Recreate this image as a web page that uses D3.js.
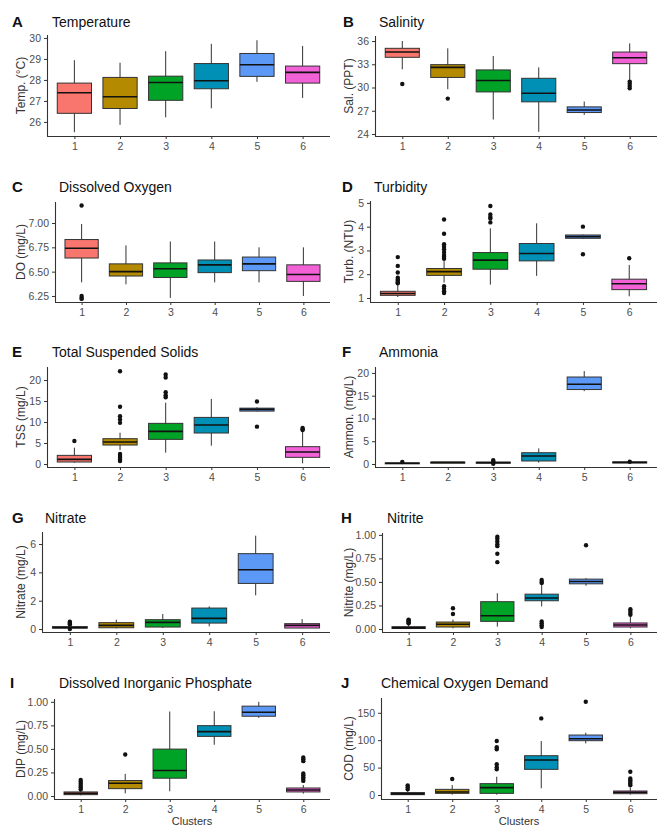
<!DOCTYPE html>
<html>
<head>
<meta charset="utf-8">
<script src="https://cdn.jsdelivr.net/npm/d3@7"></script>
<style>
  body { margin: 0; background: #fff; }
  svg { font-family: Arial, "Liberation Sans", sans-serif; }
</style>
</head>
<body>
<div id="chart"></div>
<script>
// cluster labels on every x axis
var clusters = ["1", "2", "3", "4", "5", "6"];
var clusterColors = ["#F8766D", "#B38A00", "#00A326", "#0090B5", "#5C99F7", "#F262D6"];

// box stats per cluster: [lower whisker, q1, median, q3, upper whisker]
var tempBox = [[25.51, 26.41, 27.39, 27.85, 28.94], [25.86, 26.64, 27.2, 28.12, 28.82], [26.22, 27.03, 27.88, 28.18, 29.37],
  [26.65, 27.58, 27.96, 28.78, 29.72], [27.91, 28.17, 28.72, 29.26, 29.89], [27.14, 27.85, 28.36, 28.66, 29.62]];
var tempOut = [[], [], [], [], [], []];

var salBox = [[32.35, 33.9, 34.58, 35.06, 36.0], [29.78, 31.3, 32.6, 32.95, 35.06], [25.87, 29.43, 30.9, 32.27, 34.07],
  [24.28, 28.15, 29.26, 31.19, 32.6], [26.47, 26.77, 27.1, 27.5, 28.19], [30.98, 33.08, 33.85, 34.58, 35.7]];
var salOut = [[30.46], [28.57], [], [], [], [30.76, 30.5, 30.2, 29.9]];

var doBox = [[6.39, 6.64, 6.74, 6.83, 6.99], [6.37, 6.455, 6.5, 6.58, 6.77], [6.23, 6.44, 6.53, 6.59, 6.81],
  [6.39, 6.49, 6.57, 6.62, 6.81], [6.39, 6.51, 6.58, 6.65, 6.75], [6.25, 6.4, 6.47, 6.57, 6.75]];
var doOut = [[7.18, 6.25, 6.23, 6.22], [], [], [], [], []];

var turbBox = [[1.04, 1.11, 1.19, 1.28, 1.55], [1.65, 1.95, 2.11, 2.24, 2.55], [1.56, 2.21, 2.59, 2.91, 3.93],
  [1.93, 2.56, 2.87, 3.29, 4.14], [3.48, 3.51, 3.58, 3.65, 3.67], [1.07, 1.35, 1.6, 1.79, 2.39]];
var turbOut = [[2.72, 2.35, 2.07, 1.85, 1.78, 1.72, 1.66, 1.62],
  [4.3, 3.7, 3.26, 3.16, 3.05, 2.93, 2.81, 2.73, 2.65, 1.49, 1.39, 1.28, 1.21],
  [4.87, 4.51, 4.41, 4.34, 4.18], [], [4.0, 2.84], [2.67]];

var tssBox = [[0.3, 0.48, 1.11, 2.06, 3.9], [3.33, 4.52, 5.24, 6.03, 7.46], [2.7, 5.87, 7.78, 9.68, 14.6],
  [4.37, 7.38, 9.29, 11.1, 15.5], [12.5, 12.6, 13.0, 13.3, 13.5], [0.16, 1.59, 2.86, 4.13, 8.0]];
var tssOut = [[5.48], [22.1, 13.65, 11.4, 10.6, 9.8, 2.38, 1.9, 1.5, 1.1, 0.7],
  [21.3, 20.6, 17.1, 16.4, 15.9], [], [14.9, 8.9], [8.6, 8.3, 8.1]];

var ammBox = [[0.0, 0.05, 0.15, 0.25, 0.4], [0.25, 0.3, 0.35, 0.4, 0.45], [0.1, 0.2, 0.3, 0.4, 0.5],
  [0.3, 0.66, 1.75, 2.48, 3.43], [16.0, 16.35, 17.5, 19.1, 20.4], [0.2, 0.25, 0.35, 0.45, 0.45]];
var ammOut = [[0.45], [], [0.85, 0.6, 0.05], [], [], [0.5]];

var nitrateBox = [[0.02, 0.07, 0.1, 0.17, 0.25], [0.05, 0.09, 0.26, 0.45, 0.66], [0.07, 0.14, 0.47, 0.66, 1.06],
  [0.19, 0.42, 0.75, 1.48, 1.6], [2.38, 3.22, 4.19, 5.32, 6.59], [0.05, 0.07, 0.26, 0.38, 0.7]];
var nitrateOut = [[0.52, 0.45, 0.38, 0.32, 0.0], [], [], [], [], []];

var nitriteBox = [[0.0, 0.005, 0.012, 0.025, 0.05], [0.007, 0.021, 0.05, 0.074, 0.1], [0.025, 0.081, 0.14, 0.29, 0.38],
  [0.24, 0.3, 0.33, 0.37, 0.48], [0.46, 0.48, 0.505, 0.53, 0.54], [0.007, 0.021, 0.042, 0.064, 0.13]];
var nitriteOut = [[0.1, 0.09, 0.08, 0.07, 0.06], [0.22, 0.16], [0.98, 0.96, 0.93, 0.9, 0.88, 0.8, 0.71],
  [0.52, 0.5, 0.49, 0.08, 0.06, 0.04, 0.02], [0.89], [0.21, 0.19, 0.17, 0.15]];

var dipBox = [[0.007, 0.014, 0.028, 0.043, 0.057], [0.028, 0.078, 0.135, 0.164, 0.235], [0.05, 0.189, 0.27, 0.498, 0.897],
  [0.544, 0.633, 0.683, 0.747, 0.9], [0.83, 0.847, 0.89, 0.954, 1.0], [0.025, 0.043, 0.064, 0.085, 0.117]];
var dipOut = [[0.17, 0.15, 0.13, 0.11, 0.09, 0.07], [0.44], [], [], [],
  [0.41, 0.39, 0.37, 0.24, 0.22, 0.2, 0.18, 0.16]];

var codBox = [[0, 0.6, 2, 4.5, 7], [0.6, 3, 5.5, 10.3, 18.2], [0.6, 3.0, 13.4, 20.7, 33.4],
  [12.2, 46.8, 63.8, 71.7, 98.5], [94.2, 99.1, 102.7, 109.4, 113.7], [0.6, 2.4, 4.9, 7.3, 14]];
var codOut = [[17.6, 14, 10.3], [29.2], [98.5, 87, 83.3, 56, 50.5, 46.8], [139.8], [170.2],
  [42.5, 30, 27, 24, 21, 18]];

// tick values per panel
var tempTicks = [26, 27, 28, 29, 30];
var salTicks = [24, 27, 30, 33, 36];
var doTicks = [6.25, 6.5, 6.75, 7.0];
var turbTicks = [1, 2, 3, 4, 5];
var tssTicks = [0, 5, 10, 15, 20];
var ammTicks = [0, 5, 10, 15, 20];
var nitrateTicks = [0, 2, 4, 6];
var nitriteTicks = [0, 0.25, 0.5, 0.75, 1.0];
var dipTicks = [0, 0.25, 0.5, 0.75, 1.0];
var codTicks = [0, 50, 100, 150];

var svg = d3.select("#chart").append("svg")
  .attr("width", 658)
  .attr("height", 826);

// panel layout (pixel frame, y extent incl. ggplot expansion)
var panels = [
  {tag: "A", title: "Temperature", ylab: "Temp. (\u00B0C)", box: tempBox, out: tempOut, ticks: tempTicks, fmt: "d",
   left: 47, right: 330, top: 35, bottom: 136, ymin: 25.33, ymax: 30.14, tagX: 12, titleX: 52, titleY: 27, labX: 21},
  {tag: "B", title: "Salinity", ylab: "Sal. (PPT)", box: salBox, out: salOut, ticks: salTicks, fmt: "d",
   left: 375, right: 657, top: 36, bottom: 136, ymin: 23.74, ymax: 36.65, tagX: 343, titleX: 379, titleY: 27, labX: 349},
  {tag: "C", title: "Dissolved Oxygen", ylab: "DO (mg/L)", box: doBox, out: doOut, ticks: doTicks, fmt: ".2f",
   left: 55, right: 330, top: 202, bottom: 302, ymin: 6.188, ymax: 7.216, tagX: 12, titleX: 59, titleY: 192, labX: 21},
  {tag: "D", title: "Turbidity", ylab: "Turb. (NTU)", box: turbBox, out: turbOut, ticks: turbTicks, fmt: "d",
   left: 370, right: 657, top: 201, bottom: 302, ymin: 0.83, ymax: 5.08, tagX: 342, titleX: 374, titleY: 192, labX: 349},
  {tag: "E", title: "Total Suspended Solids", ylab: "TSS (mg/L)", box: tssBox, out: tssOut, ticks: tssTicks, fmt: "d",
   left: 47, right: 330, top: 367, bottom: 467, ymin: -0.71, ymax: 23.1, tagX: 12, titleX: 52, titleY: 357, labX: 21},
  {tag: "F", title: "Ammonia", ylab: "Ammon. (mg/L)", box: ammBox, out: ammOut, ticks: ammTicks, fmt: "d",
   left: 375, right: 657, top: 367, bottom: 467, ymin: -0.66, ymax: 21.3, tagX: 342, titleX: 379, titleY: 357, labX: 349},
  {tag: "G", title: "Nitrate", ylab: "Nitrate (mg/L)", box: nitrateBox, out: nitrateOut, ticks: nitrateTicks, fmt: "d",
   left: 42, right: 330, top: 532, bottom: 632, ymin: -0.21, ymax: 6.85, tagX: 12, titleX: 45, titleY: 523, labX: 21},
  {tag: "H", title: "Nitrite", ylab: "Nitrite (mg/L)", box: nitriteBox, out: nitriteOut, ticks: nitriteTicks, fmt: ".2f",
   left: 382, right: 657, top: 533, bottom: 632, ymin: -0.032, ymax: 1.02, tagX: 341, titleX: 387, titleY: 523, labX: 349},
  {tag: "I", title: "Dissolved Inorganic Phosphate", ylab: "DIP (mg/L)", box: dipBox, out: dipOut, ticks: dipTicks, fmt: ".2f",
   left: 54, right: 330, top: 699, bottom: 799, ymin: -0.032, ymax: 1.03, tagX: 10, titleX: 59, titleY: 688, labX: 21, xlab: true},
  {tag: "J", title: "Chemical Oxygen Demand", ylab: "COD (mg/L)", box: codBox, out: codOut, ticks: codTicks, fmt: "d",
   left: 381, right: 657, top: 698, bottom: 799, ymin: -7.3, ymax: 177, tagX: 341, titleX: 381, titleY: 688, labX: 349, xlab: true}
];

panels.forEach(function(p) {
  var g = svg.append("g");

  var x = d3.scalePoint().domain(clusters).range([p.left, p.right]).padding(0.6);
  var y = d3.scaleLinear().domain([p.ymin, p.ymax]).range([p.bottom, p.top]);
  var bw = x.step() * 0.75;

  // axes
  var yAxis = g.append("g")
    .attr("transform", "translate(" + p.left + ",0)")
    .call(d3.axisLeft(y).tickValues(p.ticks).tickFormat(d3.format(p.fmt)).tickSize(3).tickSizeOuter(0));
  var xAxis = g.append("g")
    .attr("transform", "translate(0," + p.bottom + ")")
    .call(d3.axisBottom(x).tickSize(3).tickSizeOuter(0));
  [xAxis, yAxis].forEach(function(a) {
    a.select(".domain").attr("stroke", "#333").attr("stroke-width", 1.1);
    a.selectAll(".tick line").attr("stroke", "#333");
    a.selectAll(".tick text").attr("fill", "#4d4d4d").style("font-size", "10.5px").style("font-family", "Arial, 'Liberation Sans', sans-serif");
  });
  yAxis.select(".domain").attr("d", "M0.5," + p.top + "V" + p.bottom);
  xAxis.select(".domain").attr("d", "M" + p.left + ",0.5H" + p.right);
  xAxis.selectAll(".tick text").attr("y", 5).attr("dy", "0.85em");

  // whiskers
  g.selectAll(".whisker")
    .data(p.box)
    .enter()
    .append("line")
    .attr("x1", (d, i) => x(clusters[i]))
    .attr("x2", (d, i) => x(clusters[i]))
    .attr("y1", d => y(d[0]))
    .attr("y2", d => y(d[4]))
    .attr("stroke", "#333")
    .attr("stroke-width", 1);

  // boxes
  g.selectAll(".box")
    .data(p.box)
    .enter()
    .append("rect")
    .attr("x", (d, i) => x(clusters[i]) - bw / 2)
    .attr("width", bw)
    .attr("y", d => y(d[3]))
    .attr("height", d => Math.max(1, y(d[1]) - y(d[3])))
    .attr("fill", (d, i) => clusterColors[i])
    .attr("stroke", "#333")
    .attr("stroke-width", 1);

  // medians
  g.selectAll(".median")
    .data(p.box)
    .enter()
    .append("line")
    .attr("x1", (d, i) => x(clusters[i]) - bw / 2)
    .attr("x2", (d, i) => x(clusters[i]) + bw / 2)
    .attr("y1", d => y(d[2]))
    .attr("y2", d => y(d[2]))
    .attr("stroke", "#111")
    .attr("stroke-width", 1.6);

  // outliers
  p.out.forEach(function(vals, i) {
    g.selectAll(null)
      .data(vals)
      .enter()
      .append("circle")
      .attr("cx", x(clusters[i]))
      .attr("cy", d => y(d))
      .attr("r", 2.2)
      .attr("fill", "#111");
  });

  // tag and title
  g.append("text")
    .attr("x", p.tagX)
    .attr("y", p.titleY)
    .attr("font-size", 15)
    .attr("font-weight", "bold")
    .attr("fill", "#111")
    .text(p.tag);
  g.append("text")
    .attr("x", p.titleX)
    .attr("y", p.titleY)
    .attr("font-size", 14)
    .attr("fill", "#111")
    .text(p.title);

  // y axis title
  g.append("text")
    .attr("transform", "translate(" + p.labX + "," + ((p.top + p.bottom) / 2) + ") rotate(-90)")
    .attr("text-anchor", "middle")
    .attr("dy", "0.35em")
    .attr("font-size", 12)
    .attr("fill", "#333")
    .text(p.ylab);

  if (p.xlab) {
    g.append("text")
      .attr("x", (p.left + p.right) / 2)
      .attr("y", 825)
      .attr("text-anchor", "middle")
      .attr("font-size", 11)
      .attr("fill", "#333")
      .text("Clusters");
  }
});
</script>
</body>
</html>
